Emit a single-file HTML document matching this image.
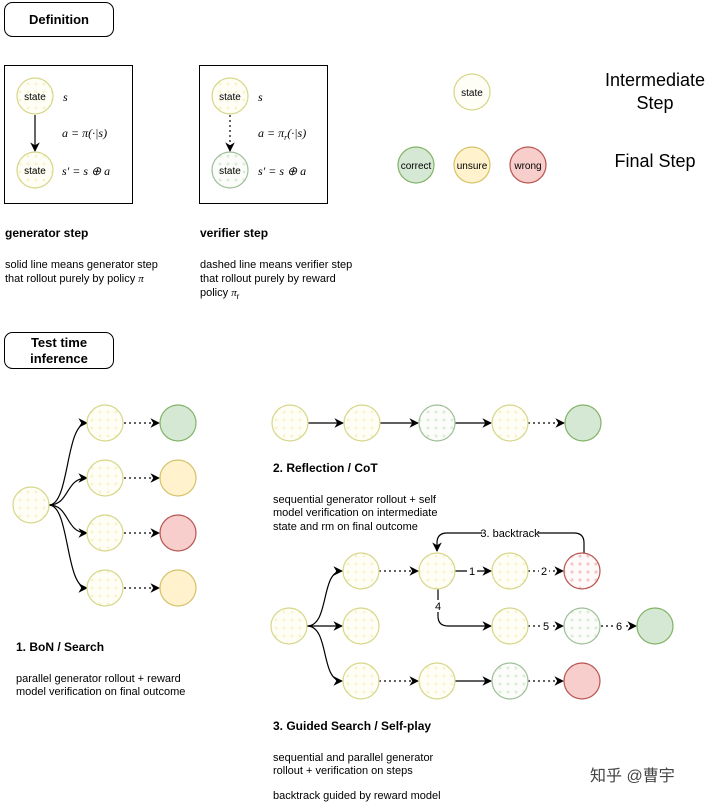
<!DOCTYPE html>
<html><head><meta charset="utf-8"><style>
body{margin:0;background:#fff;width:720px;height:806px;overflow:hidden}
svg{display:block;font-family:"Liberation Sans",Helvetica,sans-serif}
</style></head><body>
<svg width="720" height="806" viewBox="0 0 720 806">
<defs>
<marker id="a" viewBox="0 0 10 10" refX="9" refY="5" markerWidth="8" markerHeight="8" orient="auto"><path d="M0,0 L10,5 L0,10 L3,5z" fill="#000"/></marker>
<pattern id="dy" width="8" height="8" patternUnits="userSpaceOnUse"><rect width="8" height="8" fill="#fffef6"/><circle cx="4" cy="4" r="1.5" fill="#f8f3cc"/></pattern>
<pattern id="dg" width="8" height="8" patternUnits="userSpaceOnUse"><rect width="8" height="8" fill="#fcfdfa"/><circle cx="4" cy="4" r="1.5" fill="#dbecd8"/></pattern>
<pattern id="dr" width="8" height="8" patternUnits="userSpaceOnUse"><rect width="8" height="8" fill="#fffafa"/><circle cx="4" cy="4" r="1.6" fill="#f4c8c8"/></pattern>
</defs>
<g fill="none" stroke="#000" stroke-width="1">
<rect x="4.5" y="2.5" width="109" height="34" rx="8"/>
<rect x="4.5" y="332.5" width="109" height="36" rx="8"/>
<rect x="4.5" y="65.5" width="128" height="138"/>
<rect x="199.5" y="65.5" width="128" height="138"/>
</g>
<text x="59" y="24" font-size="13" font-weight="bold" text-anchor="middle">Definition</text>
<text x="59" y="347" font-size="13" font-weight="bold" text-anchor="middle">Test time</text>
<text x="59" y="363" font-size="13" font-weight="bold" text-anchor="middle">inference</text>

<g stroke="#000" fill="none" stroke-width="1.2">
<line x1="35" y1="115" x2="35" y2="151" marker-end="url(#a)"/>
<line x1="230" y1="115" x2="230" y2="151" stroke-dasharray="2,3" marker-end="url(#a)"/>
<path d="M49,505 C70,505 65,423 87,423" marker-end="url(#a)"/>
<path d="M49,505 C70,505 65,478 87,478" marker-end="url(#a)"/>
<path d="M49,505 C70,505 65,533 87,533" marker-end="url(#a)"/>
<path d="M49,505 C70,505 65,588 87,588" marker-end="url(#a)"/>
<g stroke-dasharray="2,3">
<line x1="124" y1="423" x2="159" y2="423" marker-end="url(#a)"/>
<line x1="124" y1="478" x2="159" y2="478" marker-end="url(#a)"/>
<line x1="124" y1="533" x2="159" y2="533" marker-end="url(#a)"/>
<line x1="124" y1="588" x2="159" y2="588" marker-end="url(#a)"/>
</g>
<line x1="308" y1="423" x2="343" y2="423" marker-end="url(#a)"/>
<line x1="380" y1="423" x2="418" y2="423" marker-end="url(#a)"/>
<line x1="455" y1="423" x2="491" y2="423" marker-end="url(#a)"/>
<line x1="528" y1="423" x2="564" y2="423" stroke-dasharray="2,3" marker-end="url(#a)"/>
<path d="M307,626 C330,626 320,571 342,571" marker-end="url(#a)"/>
<line x1="307" y1="626" x2="342" y2="626" marker-end="url(#a)"/>
<path d="M307,626 C330,626 320,681 342,681" marker-end="url(#a)"/>
<line x1="379" y1="571" x2="418" y2="571" stroke-dasharray="2,3" marker-end="url(#a)"/>
<line x1="455" y1="571" x2="491" y2="571" marker-end="url(#a)"/>
<line x1="528" y1="571" x2="563" y2="571" stroke-dasharray="2,3" marker-end="url(#a)"/>
<path d="M584,553 L584,543 Q584,533 574,533 L447,533 Q437,533 437,543 L437,551" marker-end="url(#a)"/>
<path d="M438,589 L438,616 Q438,626 448,626 L491,626" marker-end="url(#a)"/>
<line x1="528" y1="626" x2="563" y2="626" stroke-dasharray="2,3" marker-end="url(#a)"/>
<line x1="601" y1="626" x2="636" y2="626" stroke-dasharray="2,3" marker-end="url(#a)"/>
<line x1="379" y1="681" x2="418" y2="681" stroke-dasharray="2,3" marker-end="url(#a)"/>
<line x1="455" y1="681" x2="491" y2="681" marker-end="url(#a)"/>
<line x1="528" y1="681" x2="563" y2="681" stroke-dasharray="2,3" marker-end="url(#a)"/>
</g>
<g font-size="11" text-anchor="middle">
<rect x="482" y="527" width="56" height="13" fill="#fff"/><text x="510" y="537">3. backtrack</text>
<rect x="467" y="565" width="10" height="12" fill="#fff"/><text x="472" y="575">1</text>
<rect x="539" y="565" width="10" height="12" fill="#fff"/><text x="544" y="575">2</text>
<rect x="433" y="600" width="10" height="12" fill="#fff"/><text x="438" y="610">4</text>
<rect x="541" y="620" width="10" height="12" fill="#fff"/><text x="546" y="630">5</text>
<rect x="614" y="620" width="10" height="12" fill="#fff"/><text x="619" y="630">6</text>
</g>

<g stroke-width="1.2">
<g stroke="#d6d68a" fill="url(#dy)">
<circle cx="35" cy="96" r="18"/><circle cx="35" cy="170" r="18"/><circle cx="230" cy="96" r="18"/>
<circle cx="31" cy="505" r="18"/>
<circle cx="105" cy="423" r="18"/><circle cx="105" cy="478" r="18"/><circle cx="105" cy="533" r="18"/><circle cx="105" cy="588" r="18"/>
<circle cx="290" cy="423" r="18"/><circle cx="362" cy="423" r="18"/><circle cx="510" cy="423" r="18"/>
<circle cx="289" cy="626" r="18"/><circle cx="361" cy="571" r="18"/><circle cx="361" cy="626" r="18"/><circle cx="361" cy="681" r="18"/>
<circle cx="437" cy="571" r="18"/><circle cx="510" cy="571" r="18"/><circle cx="510" cy="626" r="18"/><circle cx="437" cy="681" r="18"/>
</g>
<circle cx="472" cy="92" r="18" stroke="#d6d68a" fill="#fffef6"/>
<g stroke="#9fbf99" fill="url(#dg)">
<circle cx="230" cy="170" r="18"/><circle cx="437" cy="423" r="18"/><circle cx="582" cy="626" r="18"/><circle cx="510" cy="681" r="18"/>
</g>
<circle cx="582" cy="571" r="18" stroke="#b85450" fill="url(#dr)"/>
<g stroke="#82b366" fill="#d5e8d4"><circle cx="416" cy="165" r="18"/><circle cx="178" cy="423" r="18"/><circle cx="583" cy="423" r="18"/><circle cx="655" cy="626" r="18"/></g>
<g stroke="#d6c26a" fill="#fff2cc"><circle cx="472" cy="165" r="18"/><circle cx="178" cy="478" r="18"/><circle cx="178" cy="588" r="18"/></g>
<g stroke="#b85450" fill="#f8cecc"><circle cx="528" cy="165" r="18"/><circle cx="178" cy="533" r="18"/><circle cx="582" cy="681" r="18"/></g>
</g>

<g font-size="10" text-anchor="middle">
<text x="35" y="100">state</text><text x="35" y="174">state</text>
<text x="230" y="100">state</text><text x="230" y="174">state</text>
<text x="472" y="96">state</text>
<text x="416" y="169">correct</text><text x="472" y="169">unsure</text><text x="528" y="169">wrong</text>
</g>
<g font-family="Liberation Serif,serif" font-style="italic" font-size="12">
<text x="63" y="101">s</text><text x="62" y="137">a = π(·|s)</text><text x="62" y="175">s′ = s ⊕ a</text>
<text x="258" y="101">s</text><text x="258" y="137">a = π<tspan font-size="8" dy="3">r</tspan><tspan dy="-3">(·|s)</tspan></text><text x="258" y="175">s′ = s ⊕ a</text>
</g>
<g font-size="18" text-anchor="middle">
<text x="655" y="86">Intermediate</text><text x="655" y="109">Step</text><text x="655" y="167">Final Step</text>
</g>
<g font-size="11">
<text x="5" y="237" font-weight="bold" font-size="12">generator step</text>
<text x="5" y="268">solid line means generator step</text>
<text x="5" y="282">that rollout purely by policy <tspan font-family="Liberation Serif,serif" font-style="italic">π</tspan></text>
<text x="200" y="237" font-weight="bold" font-size="12">verifier step</text>
<text x="200" y="268">dashed line means verifier step</text>
<text x="200" y="282">that rollout purely by reward</text>
<text x="200" y="296">policy <tspan font-family="Liberation Serif,serif" font-style="italic">π</tspan><tspan font-size="8" dy="3">r</tspan></text>
<text x="16" y="651" font-weight="bold" font-size="12">1. BoN / Search</text>
<text x="16" y="682">parallel generator rollout + reward</text>
<text x="16" y="695">model verification on final outcome</text>
<text x="273" y="472" font-weight="bold" font-size="12">2. Reflection / CoT</text>
<text x="273" y="503">sequential generator rollout + self</text>
<text x="273" y="516">model verification on intermediate</text>
<text x="273" y="530">state and rm on final outcome</text>
<text x="273" y="730" font-weight="bold" font-size="12">3. Guided Search / Self-play</text>
<text x="273" y="761">sequential and parallel generator</text>
<text x="273" y="774">rollout +  verification on steps</text>
<text x="273" y="799">backtrack guided by reward model</text>
</g>
<text x="590" y="781" font-size="16" fill="#444" font-family="Liberation Sans,'Noto Sans CJK SC',sans-serif">知乎 @曹宇</text>
</svg>
</body></html>
